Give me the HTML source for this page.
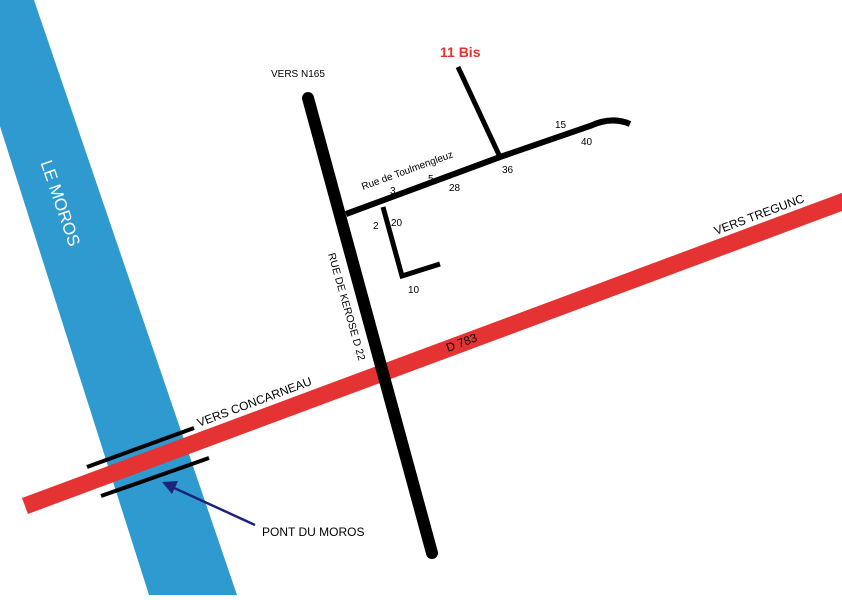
<!DOCTYPE html>
<html><head><style>body{margin:0;background:#fff}</style></head><body>
<svg width="842" height="595" viewBox="0 0 842 595" xmlns="http://www.w3.org/2000/svg" font-family="Liberation Sans, sans-serif">
<rect width="842" height="595" fill="#fff"/>
<polygon points="-2,0 34,0 237,595 149,595 -2,120" fill="#2f9ad0"/>
<text transform="translate(55,205) rotate(71)" text-anchor="middle" font-size="17" fill="#fff">LE MOROS</text>
<line x1="25" y1="506" x2="850" y2="199" stroke="#e53232" stroke-width="17"/>
<line x1="308" y1="98" x2="432" y2="553" stroke="#000" stroke-width="12" stroke-linecap="round"/>
<path d="M346,214 L500,157 L590,126 Q612,116 630,124" fill="none" stroke="#000" stroke-width="6"/>
<polyline points="383,207 402,276 440,264" fill="none" stroke="#000" stroke-width="5"/>
<line x1="458" y1="67" x2="500" y2="157" stroke="#000" stroke-width="5"/>
<line x1="87" y1="467" x2="194" y2="428" stroke="#000" stroke-width="4"/>
<line x1="101" y1="496" x2="209" y2="458" stroke="#000" stroke-width="4"/>
<line x1="255" y1="525" x2="172" y2="487" stroke="#1b237a" stroke-width="2.5"/>
<polygon points="162,482 178,481 172,494" fill="#1b237a"/>
<text x="271" y="77" font-size="10" fill="#000">VERS N165</text>
<text x="440" y="57" font-size="14" font-weight="bold" fill="#e53232">11 Bis</text>
<text transform="translate(363,190) rotate(-20)" font-size="10">Rue de Toulmengleuz</text>
<g font-size="10">
<text x="390" y="194">3</text><text x="428" y="182">5</text><text x="449" y="191">28</text>
<text x="502" y="173">36</text><text x="555" y="128">15</text><text x="581" y="145">40</text>
<text x="373" y="229">2</text><text x="391" y="226">20</text><text x="408" y="293">10</text>
</g>
<text transform="translate(328,254) rotate(74)" font-size="10.5">RUE DE KEROSE  D 22</text>
<text transform="translate(448,352) rotate(-20.5)" font-size="12">D 783</text>
<text transform="translate(716,235) rotate(-20.5)" font-size="12">VERS TREGUNC</text>
<text transform="translate(199,427) rotate(-20.5)" font-size="12">VERS CONCARNEAU</text>
<text x="262" y="536" font-size="12">PONT DU MOROS</text>
</svg>
</body></html>
